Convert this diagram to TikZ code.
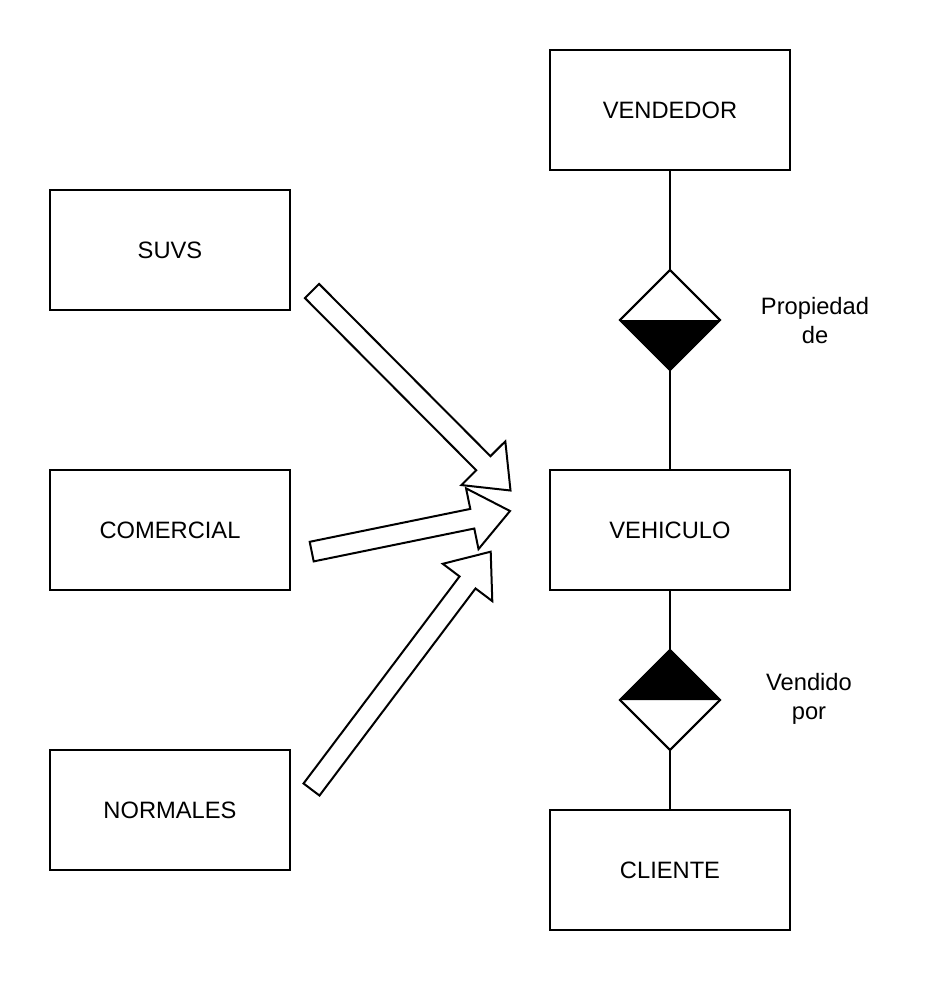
\documentclass[tikz,border=0pt]{standalone}
\usepackage{fontspec}
\setmainfont{Liberation Sans}
\usetikzlibrary{calc,shapes.geometric}
\tikzset{
  entity/.style={draw, line width=2pt, minimum width=240pt, minimum height=120pt, inner sep=0pt, outer sep=0pt, font=\fontsize{23.7pt}{29pt}\selectfont},
  rel/.style={draw, diamond, aspect=1, line width=2pt, minimum width=100pt, minimum height=100pt, inner sep=0pt, outer sep=0pt},
  lbl/.style={align=center, font=\fontsize{23.7pt}{29pt}\selectfont},
  link/.style={line width=2pt},
  blockarr/.style={draw, line width=2pt, fill=white, line join=miter}
}
\newcommand{\flexarrow}[2]{%
  \path ($(#2)!38.5pt!(#1)$) coordinate (#1s);
  \draw[blockarr] ($(#1)!10pt!90:(#2)$) -- ($(#1s)!10pt!90:(#2)$) -- ($(#1s)!31pt!90:(#2)$) -- (#2)
    -- ($(#1s)!31pt!-90:(#2)$) -- ($(#1s)!10pt!-90:(#2)$) -- ($(#1)!10pt!-90:(#2)$) -- cycle;}
\begin{document}
\begin{tikzpicture}[x=1pt,y=-1pt]
\useasboundingbox (0,0) rectangle (928,984);
\node[entity] (vend) at (670,110) {VENDEDOR};
\node[entity] (suvs) at (170,250) {SUVS};
\node[entity] (com) at (170,530) {COMERCIAL};
\node[entity] (veh) at (670,530) {VEHICULO};
\node[entity] (norm) at (170,810) {NORMALES};
\node[entity] (cli) at (670,870) {CLIENTE};
\node[rel] (d1) at (670,320) {};
\node[rel] (d2) at (670,700) {};
\fill (d1.west) -- (d1.east) -- (d1.south) -- cycle;
\fill (d2.west) -- (d2.east) -- (d2.north) -- cycle;
\node[rel] at (670,320) {};
\node[rel] at (670,700) {};
\draw[link] (vend) -- (d1.north);
\draw[link] (d1.south) -- (veh);
\draw[link] (veh) -- (d2.north);
\draw[link] (d2.south) -- (cli);
\node[lbl] (l1) at (815,321) {Propiedad\\de};
\node[lbl] (l2) at (809,699) {Vendido\\por};
\coordinate (a1) at (312,291);
\coordinate (b1) at (510.5,490.5);
\coordinate (a2) at (311.7,551.6);
\coordinate (b2) at (510,511);
\coordinate (a3) at (311.5,789.5);
\coordinate (b3) at (490.7,551.7);
\flexarrow{a1}{b1}
\flexarrow{a2}{b2}
\flexarrow{a3}{b3}
\end{tikzpicture}
\end{document}
